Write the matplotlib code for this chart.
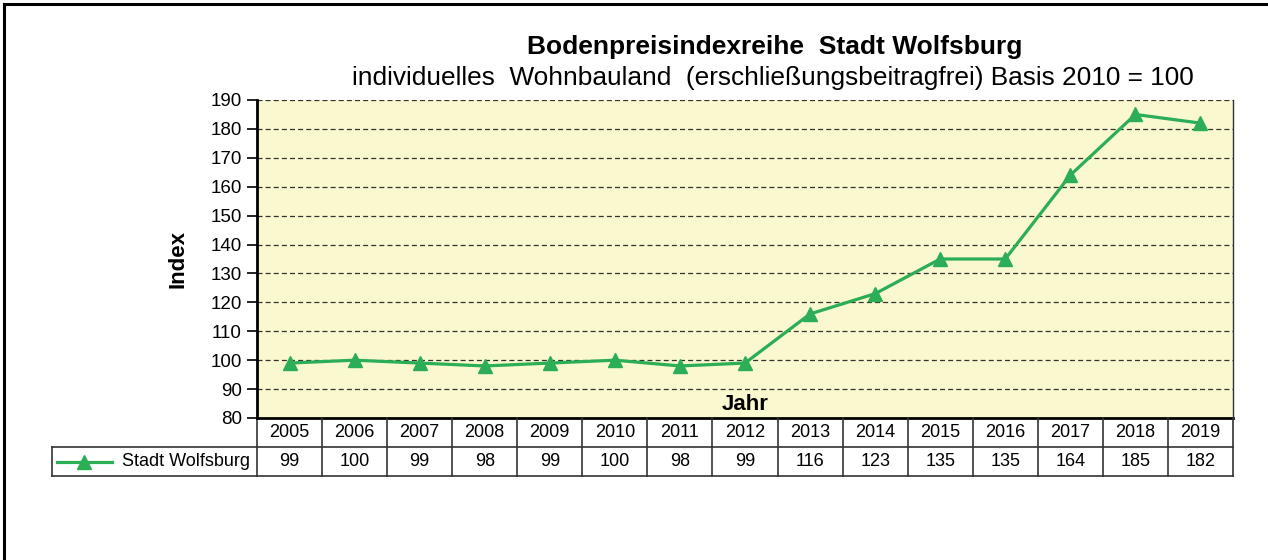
import matplotlib.pyplot as plt
from matplotlib.lines import Line2D

plt.rcParams['font.family'] = ['Liberation Sans', 'DejaVu Sans']

jahre = ['2005', '2006', '2007', '2008', '2009', '2010', '2011', '2012',
         '2013', '2014', '2015', '2016', '2017', '2018', '2019']
werte = [99, 100, 99, 98, 99, 100, 98, 99, 116, 123, 135, 135, 164, 185, 182]
reihe = 'Stadt Wolfsburg'
gruen = '#2BAE55'

fig = plt.figure(figsize=(12.68, 5.6), dpi=100, facecolor='white')
# Rahmen oben und links (Bild ist rechts/unten abgeschnitten)
fig.add_artist(Line2D([4/1268, 4/1268], [0, 1 - 4/560], color='black', lw=2.2))
fig.add_artist(Line2D([4/1268, 1], [1 - 4/560, 1 - 4/560], color='black', lw=2.2))

ax = fig.add_axes([257/1268, 1 - 418/560, 976/1268, 318/560])
ax.set_facecolor('#FAF8CE')
x = list(range(len(jahre)))
ax.plot(x, werte, color=gruen, lw=2.3, marker='^', markersize=10, zorder=3)
ax.set_xlim(-0.5, len(jahre) - 0.5)
ax.set_ylim(80, 190)
ax.set_yticks(range(80, 191, 10))
ax.tick_params(axis='y', labelsize=13.5, length=7, width=1.2, direction='out', pad=4)
ax.set_xticks([])
for y in range(90, 191, 10):
    ax.axhline(y, color='#333333', lw=0.9, ls=(0, (4, 2.5)), zorder=1)
for s in ['top', 'bottom']:
    ax.spines[s].set_visible(False)
ax.spines['left'].set_linewidth(2)
ax.spines['right'].set_linewidth(1)
ax.spines['right'].set_color('#333333')

ax.set_ylabel('Index', fontsize=16, fontweight='bold', labelpad=16)
ax.text(0.5, 0.008, 'Jahr', transform=ax.transAxes, ha='center', va='bottom',
        fontsize=16, fontweight='bold')

# Datentabelle unter der Grafik
h = 29 / 318
lx = (52 - 257) / 976
tr = ax.transAxes
kw = dict(transform=tr, clip_on=False, color='#333333', lw=1.2)
ax.add_line(Line2D([0, 1], [0, 0], **dict(kw, color='black', lw=2)))
ax.add_line(Line2D([lx, 1], [-h, -h], **kw))
ax.add_line(Line2D([lx, 1], [-2 * h, -2 * h], **kw))
ax.add_line(Line2D([lx, lx], [-h, -2 * h], **kw))
n = len(jahre)
for i in range(n + 1):
    ax.add_line(Line2D([i / n, i / n], [0, -2 * h], **kw))
for i, (j, w) in enumerate(zip(jahre, werte)):
    cx = (i + 0.5) / n
    ax.text(cx, -0.5 * h, j, transform=tr, ha='center', va='center', fontsize=13)
    ax.text(cx, -1.5 * h, str(w), transform=tr, ha='center', va='center', fontsize=13)
# Legendensymbol
lx0, lx1 = (57 - 257) / 976, (112 - 257) / 976
ax.add_line(Line2D([lx0, lx1], [-1.5 * h, -1.5 * h], transform=tr,
                   clip_on=False, color=gruen, lw=2.3, zorder=3))
ax.add_line(Line2D([(lx0 + lx1) / 2], [-1.5 * h], transform=tr, clip_on=False,
                   color=gruen, marker='^', markersize=10, ls='none', zorder=3))
ax.text(-0.007, -1.5 * h, reihe, transform=tr, ha='right', va='center', fontsize=13)

fig.text(775/1268, 1 - 47/560, 'Bodenpreisindexreihe  Stadt Wolfsburg',
         ha='center', va='center', fontsize=19, fontweight='bold')
fig.text(773/1268, 1 - 78/560,
         'individuelles  Wohnbauland  (erschließungsbeitragfrei) Basis 2010 = 100',
         ha='center', va='center', fontsize=18.9)

fig.savefig('out.png', dpi=100, facecolor='white')
